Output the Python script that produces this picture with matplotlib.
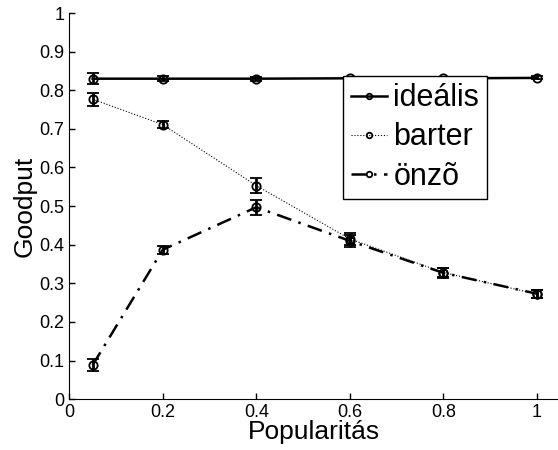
import matplotlib
matplotlib.use("Agg")
import matplotlib.pyplot as plt

plt.rcParams['font.family'] = ['Liberation Sans', 'DejaVu Sans']

popularity = [0.05, 0.2, 0.4, 0.6, 0.8, 1.0]

ideal = [0.830, 0.830, 0.830, 0.831, 0.831, 0.832]
ideal_err = [0.015, 0.007, 0.005, 0.004, 0.004, 0.004]

barter = [0.777, 0.711, 0.553, 0.415, 0.328, 0.272]
barter_err = [0.017, 0.010, 0.020, 0.015, 0.012, 0.010]

selfish = [0.088, 0.387, 0.497, 0.410, 0.327, 0.273]
selfish_err = [0.015, 0.010, 0.020, 0.015, 0.012, 0.010]

series = [
    ('ideális', ideal, ideal_err, '-', 1.8),
    ('barter', barter, barter_err, ':', 0.8),
    ('önzõ', selfish, selfish_err, (0, (6, 3, 1, 3)), 1.8),
]

fig = plt.figure(figsize=(5.58, 4.5), dpi=100)
ax = fig.add_axes([0.124, 0.113, 0.876, 0.858])

for name, y, err, ls, lw in series:
    ax.errorbar(popularity, y, yerr=err, color='black', linestyle=ls, linewidth=lw,
                marker='o', markersize=6, markerfacecolor='none', markeredgewidth=1.3,
                ecolor='black', elinewidth=2, capsize=4, capthick=2, label=name)

ax.set_xlim(0, 1.045)
ax.set_ylim(0, 1)
ax.set_xticks([0, 0.2, 0.4, 0.6, 0.8, 1])
ax.set_xticklabels(['0', '0.2', '0.4', '0.6', '0.8', '1'])
ax.set_yticks([0, 0.1, 0.2, 0.3, 0.4, 0.5, 0.6, 0.7, 0.8, 0.9, 1])
ax.set_yticklabels(['0', '0.1', '0.2', '0.3', '0.4', '0.5', '0.6', '0.7', '0.8', '0.9', '1'])
ax.tick_params(direction='in', labelsize=13, length=4, width=1)
ax.spines['top'].set_visible(False)
ax.spines['right'].set_visible(False)
ax.set_xlabel('Popularitás', fontsize=19, labelpad=-1)
ax.set_ylabel('Goodput', fontsize=19, labelpad=2)

handles, labels = ax.get_legend_handles_labels()
leg = ax.legend([h[0] for h in handles], labels, loc='upper left',
                bbox_to_anchor=(0.56, 0.838), fontsize=22, frameon=True, fancybox=False,
                framealpha=1, edgecolor='black', handlelength=1.2, handletextpad=0.2,
                borderpad=0.25, labelspacing=0.3, borderaxespad=0)
leg.get_frame().set_linewidth(1)
for h in leg.legend_handles:
    h.set_markersize(4)

fig.savefig('out.png', dpi=100)
